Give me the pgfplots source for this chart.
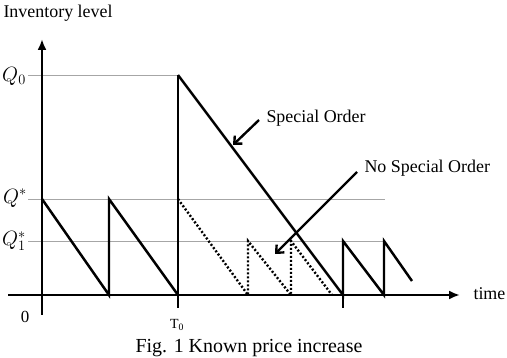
\documentclass[border=0pt]{standalone}
\usepackage{pgfplots}
\pgfplotsset{compat=1.18}
\usetikzlibrary{arrows.meta}
\usepackage{fontspec}
\setmainfont{Liberation Serif}
\begin{document}
\begin{tikzpicture}
\begin{axis}[
  x=1bp, y=1bp,
  xmin=0, xmax=507, ymin=-63, ymax=295,
  axis lines=none, scale only axis, clip=false,
  every node/.style={text=black!85},
]
% reference levels (thin gray)
\addplot[gray!70, line width=0.7pt] coordinates {(28,220) (178,220)};
\addplot[gray!70, line width=0.7pt] coordinates {(28,96) (385,96)};
\addplot[gray!70, line width=0.7pt] coordinates {(28,54) (385,54)};
% axes
\addplot[black, line width=3pt, -{Latex[length=11pt,width=9pt]}] coordinates {(8,0) (460,0)};
\addplot[black, line width=3pt, -{Latex[length=11pt,width=9pt]}] coordinates {(42,-20) (42,256)};
% sawtooth before T0
\addplot[black, line width=2.5pt] coordinates {(42,96) (109,0) (109,96) (178,0)};
% T0 vertical
\addplot[black, line width=3pt] coordinates {(178,-13) (178,220)};
% special order
\addplot[black, line width=2.5pt] coordinates {(178,220) (343,0) (343,54) (384,0) (384,54) (412,14)};
\addplot[black, line width=2.6pt] coordinates {(343,-13) (343,54)};
% no special order (dotted)
\addplot[black, line width=2.4pt, dash pattern=on 2pt off 2pt] coordinates {(178,96) (248,0) (248,54) (291,0) (291,54) (332,0)};
% annotation arrows
\addplot[black, line width=2.4pt, -{Straight Barb[length=6pt,width=11pt]}] coordinates {(259,175) (233,150)};
\addplot[black, line width=2.4pt, -{Straight Barb[length=6pt,width=11pt]}] coordinates {(357,123) (275,41)};
% labels
\node[anchor=base west, font=\fontsize{18}{20}\selectfont] at (axis cs:0,278) {Inventory level};
\node[font=\fontsize{21}{22}\selectfont] at (axis cs:14,219) {$Q_0$};
\node[font=\fontsize{21}{22}\selectfont] at (axis cs:15,97) {$Q^{*}$};
\node[font=\fontsize{21}{22}\selectfont] at (axis cs:14,54) {$Q_1^{*}$};
\node[font=\fontsize{17}{20}\selectfont] at (axis cs:25,-22) {0};
\node[font=\fontsize{14}{16}\selectfont] at (axis cs:177,-30) {T\textsubscript{0}};
\node[anchor=west, font=\fontsize{18}{20}\selectfont] at (axis cs:263,177) {Special Order};
\node[anchor=west, font=\fontsize{18}{20}\selectfont] at (axis cs:361,127) {No Special Order};
\node[anchor=west, font=\fontsize{18}{20}\selectfont] at (axis cs:470,1) {time};
\node[anchor=base, font=\fontsize{20}{22}\selectfont] at (axis cs:249,-57) {Fig. 1 Known price increase};
\end{axis}
\pgfresetboundingbox
\path[use as bounding box] (0,0) rectangle (507bp,358bp);
\end{tikzpicture}
\end{document}
